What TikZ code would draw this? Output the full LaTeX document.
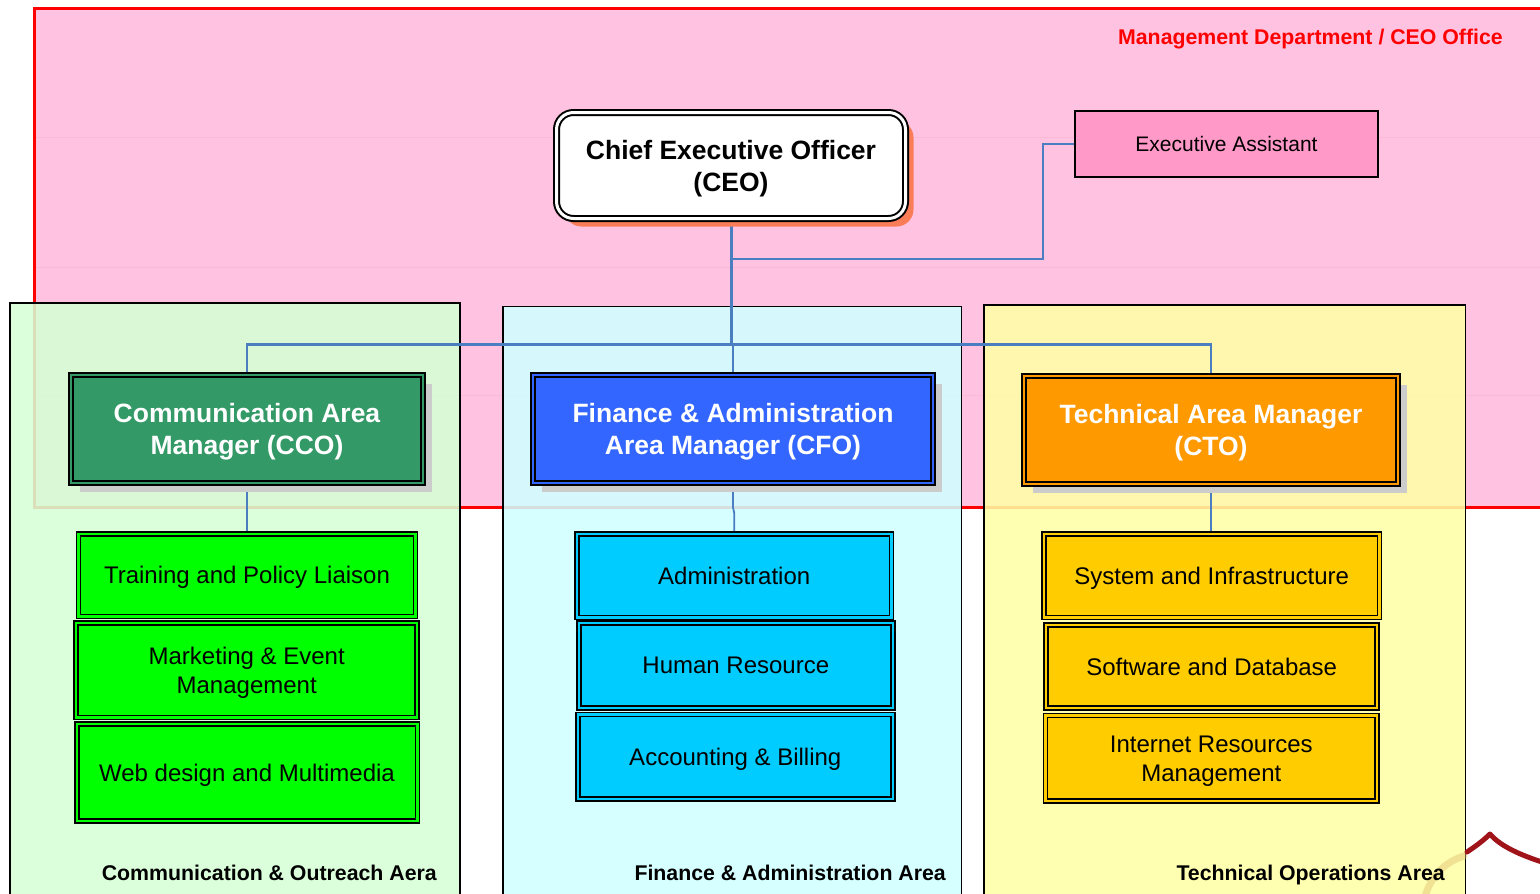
\documentclass[tikz,border=0pt]{standalone}
\usepackage{fontspec}
\setmainfont{Liberation Sans}
\usetikzlibrary{shadows,calc}
\definecolor{pinkbg}{RGB}{255,195,225}
\definecolor{redb}{RGB}{255,0,0}
\definecolor{areagreen}{RGB}{213,255,213}
\definecolor{areacyan}{RGB}{208,255,255}
\definecolor{areayellow}{RGB}{255,255,166}
\definecolor{conn}{RGB}{74,126,193}
\definecolor{ceoshadow}{RGB}{250,125,88}
\definecolor{eapink}{RGB}{255,153,200}
\definecolor{ccogreen}{RGB}{51,153,102}
\definecolor{cfoblue}{RGB}{51,102,255}
\definecolor{ctoorange}{RGB}{255,153,0}
\definecolor{subgreen}{RGB}{0,255,0}
\definecolor{subcyan}{RGB}{0,204,255}
\definecolor{subyellow}{RGB}{255,204,0}
\definecolor{clipred}{RGB}{160,20,25}
\definecolor{cliptan}{RGB}{225,190,110}
\definecolor{gridline}{RGB}{250,185,215}
\pgfdeclarelayer{bg}
\pgfdeclarelayer{links}
\pgfsetlayers{bg,links,main}
\tikzset{
  mgr/.style={draw=black, line width=2pt, double=#1, double distance=2pt, fill=#1,
    minimum height=108pt, inner sep=0pt, align=center, text=white, text depth=0pt,
    font=\fontsize{26.5}{32}\selectfont\bfseries,
    drop shadow={shadow xshift=9pt, shadow yshift=-9pt, fill=black!20, opacity=1}},
  sub/.style={draw=black, line width=1.5pt, double=#1, double distance=2.5pt, fill=#1,
    inner sep=0pt, align=center, text depth=0pt, font=\fontsize{24}{29}\selectfont},
  area/.style={draw=black, line width=1.5pt, fill opacity=0.87},
  arealabel/.style={font=\fontsize{21.3}{25}\selectfont\bfseries, inner sep=0pt, anchor=base east},
  link/.style={draw=conn, line width=2.5pt},
  thinlink/.style={draw=conn, line width=1.8pt},
}
\begin{document}
\begin{tikzpicture}[x=1pt,y=-1pt]
\useasboundingbox (0,0) rectangle (1540,894);

% boxes
\node[draw=black, line width=2pt, double=white, double distance=3pt, fill=white,
  rounded corners=17pt, minimum width=349pt, minimum height=106pt, align=center,
  text depth=0pt, font=\fontsize{26.5}{32}\selectfont\bfseries,
  drop shadow={shadow xshift=8pt, shadow yshift=-8pt, fill=ceoshadow, opacity=1}]
  (ceo) at (731,165.5) {Chief Executive Officer\\(CEO)};
\node[draw=black, line width=2pt, fill=eapink, minimum width=303pt, minimum height=66pt,
  text depth=0pt, font=\fontsize{21}{25}\selectfont] (ea) at (1226.5,144) {Executive Assistant};

\node[mgr=ccogreen, minimum width=352pt] (cco) at (247,429.3) {Communication Area\\Manager (CCO)};
\node[mgr=cfoblue, minimum width=400pt] (cfo) at (733,429.3) {Finance \& Administration\\Area Manager (CFO)};
\node[mgr=ctoorange, minimum width=374pt] (cto) at (1211,429.5) {Technical Area Manager\\(CTO)};

\node[sub=subgreen, minimum width=337pt, minimum height=82.8pt] (trn) at (247,575.2) {Training and Policy Liaison};
\node[sub=subgreen, minimum width=341pt, minimum height=94.5pt] (mkt) at (246.7,670) {Marketing \& Event\\Management};
\node[sub=subgreen, minimum width=340.5pt, minimum height=97pt] (web) at (247,772.7) {Web design and Multimedia};

\node[sub=subcyan, minimum width=314.8pt, minimum height=83.5pt] (adm) at (734.2,575.5) {Administration};
\node[sub=subcyan, minimum width=314pt, minimum height=85pt] (hr) at (735.8,665.3) {Human Resource};
\node[sub=subcyan, minimum width=315pt, minimum height=84.5pt] (acc) at (735.3,756.7) {Accounting \& Billing};

\node[sub=subyellow, minimum width=335.8pt, minimum height=83.5pt] (sys) at (1211.7,575.5) {System and Infrastructure};
\node[sub=subyellow, minimum width=331pt, minimum height=83pt] (sw) at (1211.7,666.3) {Software and Database};
\node[sub=subyellow, minimum width=331.8pt, minimum height=85.8pt] (inet) at (1211.3,758.3) {Internet Resources\\Management};

% labels
\node[arealabel, text=redb] (mgmt) at (1503,44.5) {Management Department / CEO Office};
\node[arealabel] (lcomm) at (437,880.5) {Communication \& Outreach Aera};
\node[arealabel] (lfin) at (946,880.5) {Finance \& Administration Area};
\node[arealabel] (ltech) at (1445,880.5) {Technical Operations Area};

% connectors
\begin{pgfonlayer}{links}
  \coordinate (bar) at (731,344.5);
  \coordinate (eaj) at (731,259);
  \draw[link, line width=3pt] (ceo.south) -- (bar);
  \draw[link] (cco.north) |- (bar) -| (cto.north);
  \draw[link] (cfo.north) -- (cfo.north |- bar);
  \draw[thinlink] (eaj) -- ++(312,0) |- (ea.west);
  \draw[thinlink] (cco.south) -- (trn.north);
  \draw[thinlink] (cfo.south) -- ++(0,23) -- ($(adm.north)+(0,-20)$) -- (adm.north);
  \draw[thinlink] (cto.south) -- (cto.south |- sys.north);
\end{pgfonlayer}

% background
\begin{pgfonlayer}{bg}
  \fill[white] (0,0) rectangle (1540,894);
  \draw[redb, line width=3pt, fill=pinkbg] (34,8) rectangle (1560,507);
  \draw[gridline, line width=1pt] (36,137) -- (1540,137);
  \draw[gridline, line width=1pt] (36,267) -- (1540,267);
  \draw[gridline, line width=1pt] (36,395) -- (1540,395);
  \draw[area, fill=areagreen] (10.2,303.2) rectangle (459.8,910);
  \draw[area, fill=areacyan] (503,306.7) rectangle (961.3,910);
  \draw[area, fill=areayellow] (984,305) rectangle (1465.5,910);
  \draw[cliptan, opacity=0.45, line width=7pt, line cap=round]
    (1424,900) .. controls (1430,876) and (1445,862) .. (1464,856);
  \draw[clipred, line width=5pt, line cap=round, line join=round]
    (1467,852) .. controls (1476,846) and (1484,840) .. (1490,834)
    .. controls (1500,846) and (1520,855) .. (1545,863);
\end{pgfonlayer}
\end{tikzpicture}
\end{document}
